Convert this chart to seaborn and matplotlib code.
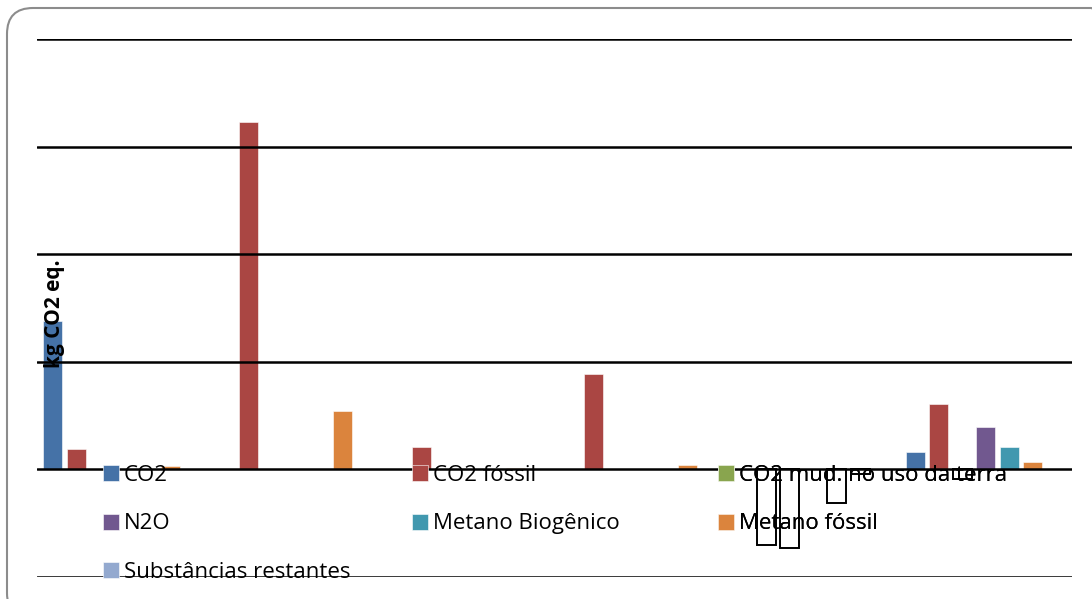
import numpy as np
import pandas as pd
import matplotlib.pyplot as plt
from matplotlib.patches import FancyBboxPatch
import seaborn as sns

# Values, in units of one gridline step (no axis labels shown)
categories = ["1", "2", "3", "4", "5", "6"]
series = ["CO2", "CO2 fóssil", "CO2 mud. no uso da terra", "N2O",
          "Metano Biogênico", "Metano fóssil", "Substâncias restantes"]
co2 = [1.38, 0.0, 0.0, 0.0, 0.0, 0.16]
co2_fossil = [0.19, 3.23, 0.21, 0.89, -0.70, 0.61]
co2_mud = [0.0, 0.0, 0.0, 0.0, -0.73, -0.09]
n2o = [0.0, 0.0, 0.0, 0.0, 0.0, 0.39]
metano_bio = [0.0, 0.0, 0.0, 0.0, -0.31, 0.21]
metano_fossil = [0.03, 0.54, 0.01, 0.04, -0.04, 0.065]
restantes = [0.0, 0.0, 0.0, 0.0, 0.0, 0.0]
ylabel = "kg CO2 eq."

colors = ["#4572A7", "#AA4643", "#89A54E", "#71588F", "#4198AF", "#DB843D", "#93A9CF"]

values = [co2, co2_fossil, co2_mud, n2o, metano_bio, metano_fossil, restantes]
df = pd.DataFrame({
    "categoria": np.tile(categories, len(series)),
    "serie": np.repeat(series, len(categories)),
    "valor": np.concatenate(values),
})

sns.set_style("white")
plt.rcParams["font.family"] = ["Open Sans", "DejaVu Sans"]
plt.rcParams["text.color"] = "black"

fig = plt.figure(figsize=(10.92, 5.99), dpi=100)
ax = fig.add_axes([37 / 1092, 1 - 577 / 599, 1035 / 1092, 538 / 599])

sns.barplot(data=df, x="categoria", y="valor", hue="serie", hue_order=series,
            order=categories, palette=colors, saturation=1, width=0.954, gap=0.19,
            edgecolor="white", linewidth=0.4, ax=ax)

handles, labels = ax.get_legend_handles_labels()
ax.get_legend().remove()

# negative bars drawn as empty outlines (Excel "invert if negative")
for p in ax.patches:
    if p.get_height() < 0:
        p.set_facecolor("none")
        p.set_edgecolor("black")
        p.set_linewidth(1.4)
        p.set_zorder(6)

ax.set_xlim(-0.5, len(categories) - 0.5)
ax.set_ylim(-1, 4)
ax.set_yticks(np.arange(-1, 5))
ax.set_xticks([])
ax.set_yticklabels([])
ax.tick_params(left=False, bottom=False)
ax.set_axisbelow(False)
ax.yaxis.grid(True, color="black", linewidth=1.8)
ax.set_xlabel("")
ax.set_ylabel("")
for s in ax.spines.values():
    s.set_visible(False)

ax.text(0.0165, 0.49, ylabel, transform=ax.transAxes, rotation=90, color="black",
        ha="center", va="center", fontsize=15, fontweight="bold", zorder=7)

# legend laid out in three columns like the original
col_x = [103, 412, 718]
for c in range(3):
    idx = list(range(c, len(series), 3))
    leg = ax.legend([handles[i] for i in idx], [labels[i] for i in idx],
                    loc="upper left", bbox_to_anchor=(col_x[c] / 1092, 1 - 465 / 599),
                    bbox_transform=fig.transFigure, frameon=False, fontsize=16,
                    borderpad=0, borderaxespad=0, handlelength=0.73, handleheight=0.73,
                    handletextpad=0.22, labelspacing=1.23, labelcolor="black")
    leg.set_zorder(5)
    ax.add_artist(leg)

# rounded chart border
frame = FancyBboxPatch((7, -20), 1110, 599 - 8 + 20, boxstyle="round,pad=0,rounding_size=26",
                       transform=None, facecolor="none", edgecolor="#8c8c8c", linewidth=1.5)
fig.patches.append(frame)

fig.savefig("out.png", dpi=100)
